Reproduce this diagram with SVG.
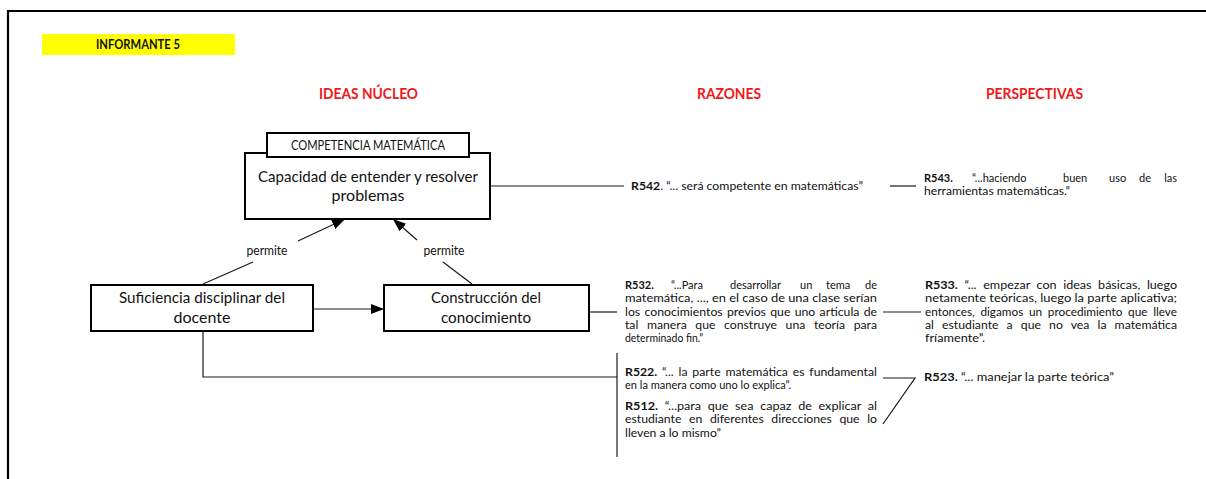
<svg xmlns="http://www.w3.org/2000/svg" width="1206" height="479" viewBox="0 0 1206 479">
<style>
text{font-family:Lato,"Liberation Sans",sans-serif;fill:#111}
.hd{font-size:16px;font-weight:bold;fill:#f01818;text-anchor:middle}
.bx{fill:#fff;stroke:#000;stroke-width:2}
.bt{font-size:16px;text-anchor:middle}
.q{font-size:11px}
.b{font-weight:bold}
.ln{fill:none;stroke:#1a1a1a;stroke-width:1.2}
.lb{font-size:12.5px;text-anchor:middle}
</style>
<defs>
<marker id="ah" markerUnits="userSpaceOnUse" markerWidth="13" markerHeight="10" refX="13" refY="5" orient="auto">
<path d="M0,0 L13,5 L0,10 z" fill="#000"/>
</marker>
</defs>
<rect width="1206" height="479" fill="#fff"/>
<g id="frame">
<line x1="8" y1="10" x2="8" y2="479" stroke="#000" stroke-width="2.2"/>
<line x1="7" y1="11" x2="1206" y2="11" stroke="#000" stroke-width="2.2"/>
</g>
<g id="title">
<rect x="42" y="34" width="193" height="21" fill="#ffff00"/>
<text x="96" y="49" class="b" font-size="13" textLength="84" lengthAdjust="spacingAndGlyphs">INFORMANTE 5</text>
</g>
<g id="headings">
<text x="368.5" y="99" class="hd" textLength="99" lengthAdjust="spacingAndGlyphs">IDEAS NÚCLEO</text>
<text x="729" y="99" class="hd" textLength="64" lengthAdjust="spacingAndGlyphs">RAZONES</text>
<text x="1034.5" y="99" class="hd" textLength="97" lengthAdjust="spacingAndGlyphs">PERSPECTIVAS</text>
</g>
<g id="connectors">
<line class="ln" x1="203" y1="284" x2="253" y2="262"/>
<line class="ln" x1="298" y1="241" x2="345" y2="219" marker-end="url(#ah)"/>
<line class="ln" x1="472" y1="284" x2="443" y2="262"/>
<line class="ln" x1="417" y1="240" x2="393" y2="219" marker-end="url(#ah)"/>
<line class="ln" x1="313" y1="309" x2="384" y2="309" marker-end="url(#ah)"/>
<polyline class="ln" points="203,331 203,377 617,377"/>
<line class="ln" x1="617" y1="353" x2="617" y2="457"/>
<line class="ln" x1="490" y1="186" x2="624" y2="186"/>
<line class="ln" x1="890" y1="186" x2="916" y2="186"/>
<line class="ln" x1="589" y1="312" x2="617" y2="312"/>
<line class="ln" x1="883" y1="312" x2="921" y2="312"/>
<polyline class="ln" points="883,378 915,378 883,424"/>
<text x="267" y="255" class="lb" textLength="41" lengthAdjust="spacingAndGlyphs">permite</text>
<text x="444" y="255" class="lb" textLength="41" lengthAdjust="spacingAndGlyphs">permite</text>
</g>
<g id="node-capacidad">
<rect class="bx" x="245" y="153" width="245" height="66"/>
<rect class="bx" x="267" y="133" width="202" height="24"/>
<text x="368" y="149.5" text-anchor="middle" font-size="12.5" textLength="154" lengthAdjust="spacingAndGlyphs">COMPETENCIA MATEMÁTICA</text>
<text x="368" y="182" class="bt" textLength="220" lengthAdjust="spacingAndGlyphs">Capacidad de entender y resolver</text>
<text x="368" y="201" class="bt">problemas</text>
</g>
<g id="node-suficiencia">
<rect class="bx" x="91" y="285" width="222" height="46"/>
<text x="202" y="302.5" class="bt" textLength="166" lengthAdjust="spacingAndGlyphs">Suficiencia disciplinar del</text>
<text x="202" y="323" class="bt">docente</text>
</g>
<g id="node-construccion">
<rect class="bx" x="384" y="285" width="205" height="46"/>
<text x="486" y="302.5" class="bt" textLength="110" lengthAdjust="spacingAndGlyphs">Construcción del</text>
<text x="486" y="323" class="bt" textLength="90" lengthAdjust="spacingAndGlyphs">conocimiento</text>
</g>
<g id="r542">
<text x="631" y="189.5" class="q" textLength="232" lengthAdjust="spacingAndGlyphs"><tspan class="b">R542</tspan>. “... será competente en matemáticas”</text>
</g>
<g id="r543">
<text y="181.5" class="q"><tspan x="924" class="b">R543.</tspan><tspan x="972">“...haciendo</tspan><tspan x="1063">buen</tspan><tspan x="1109">uso</tspan><tspan x="1139">de</tspan><tspan x="1177" text-anchor="end">las</tspan></text>
<text x="924" y="195" class="q" textLength="146" lengthAdjust="spacingAndGlyphs">herramientas matemáticas.”</text>
</g>
<g id="r532">
<text y="289" class="q"><tspan x="625" class="b">R532.</tspan><tspan x="671">“...Para</tspan><tspan x="730">desarrollar</tspan><tspan x="800">un</tspan><tspan x="826">tema</tspan><tspan x="877" text-anchor="end">de</tspan></text>
<text x="625" y="302.3" class="q" textLength="252" lengthAdjust="spacingAndGlyphs">matemática, ..., en el caso de una clase serían</text>
<text x="625" y="315.6" class="q" word-spacing="1" textLength="252" lengthAdjust="spacingAndGlyphs">los conocimientos previos que uno articula de</text>
<text x="625" y="329" class="q" word-spacing="5" textLength="252" lengthAdjust="spacingAndGlyphs">tal manera que construye una teoría para</text>
<text x="625" y="342.3" class="q" textLength="78" lengthAdjust="spacingAndGlyphs">determinado fin.”</text>
</g>
<g id="r533">
<text x="925" y="289" class="q" word-spacing="3" textLength="252" lengthAdjust="spacingAndGlyphs"><tspan class="b">R533.</tspan> “... empezar con ideas básicas, luego</text>
<text x="925" y="302.3" class="q" textLength="252" lengthAdjust="spacingAndGlyphs">netamente teóricas, luego la parte aplicativa;</text>
<text x="925" y="315.6" class="q" word-spacing="2.5" textLength="252" lengthAdjust="spacingAndGlyphs">entonces, digamos un procedimiento que lleve</text>
<text x="925" y="329" class="q" word-spacing="4.5" textLength="252" lengthAdjust="spacingAndGlyphs">al estudiante a que no vea la matemática</text>
<text x="925" y="342.3" class="q" textLength="60" lengthAdjust="spacingAndGlyphs">fríamente”.</text>
</g>
<g id="r522">
<text x="625" y="376" class="q" word-spacing="1.5" textLength="252" lengthAdjust="spacingAndGlyphs"><tspan class="b">R522.</tspan> “... la parte matemática es fundamental</text>
<text x="625" y="389.3" class="q" textLength="166" lengthAdjust="spacingAndGlyphs">en la manera como uno lo explica”.</text>
</g>
<g id="r512">
<text x="625" y="410" class="q" word-spacing="3" textLength="252" lengthAdjust="spacingAndGlyphs"><tspan class="b">R512.</tspan> “...para que sea capaz de explicar al</text>
<text x="625" y="423.3" class="q" word-spacing="4" textLength="252" lengthAdjust="spacingAndGlyphs">estudiante en diferentes direcciones que lo</text>
<text x="625" y="436.6" class="q" textLength="96" lengthAdjust="spacingAndGlyphs">lleven a lo mismo”</text>
</g>
<g id="r523">
<text x="924" y="381" class="q" textLength="190" lengthAdjust="spacingAndGlyphs"><tspan class="b">R523.</tspan> “... manejar la parte teórica”</text>
</g>
</svg>
